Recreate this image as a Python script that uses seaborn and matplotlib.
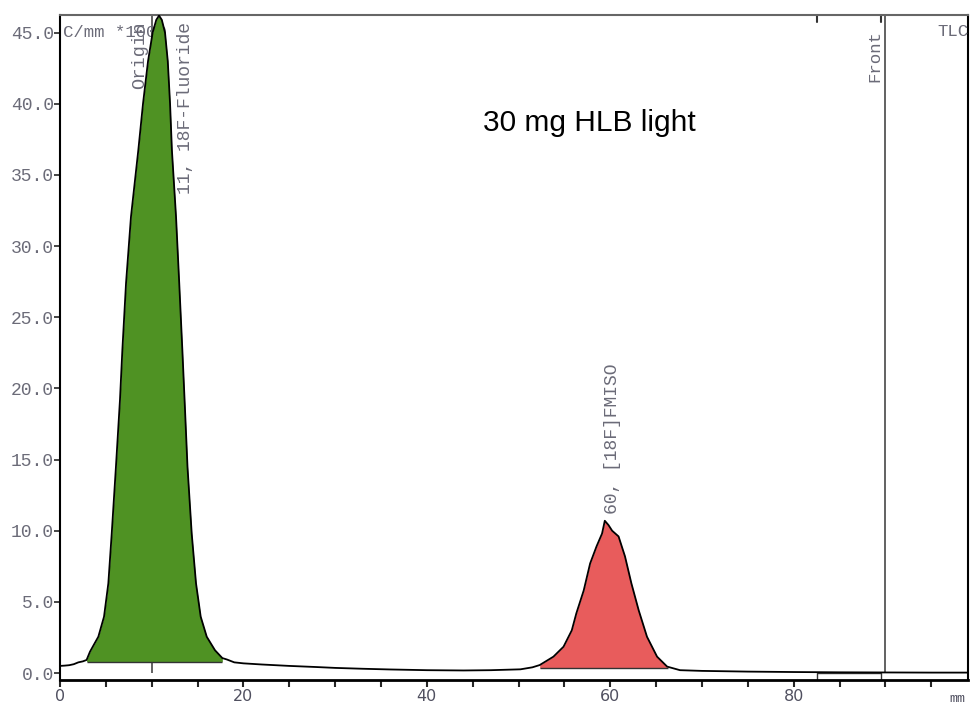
import pandas as pd
import matplotlib
matplotlib.use('Agg')
import matplotlib.pyplot as plt
import seaborn as sns

# Radio-TLC scan (mm vs counts/mm *1000)
dist_mm = [0, 0.5, 1, 1.5, 2, 2.5, 2.9, 3.27, 3.7, 4.18, 4.8, 5.27, 5.64, 6.1, 6.54, 6.8,
           7.2, 7.74, 8.54, 9.05, 9.6, 10.1, 10.5, 10.8, 11.1, 11.45, 11.75, 12.0, 12.2,
           12.65, 13.0, 13.34, 13.63, 13.9, 14.36, 14.83, 15.34, 16.0, 16.9, 17.7, 18.2,
           19, 20, 22, 25, 28, 30, 33, 36, 40, 44, 47, 50.2, 51.5, 52.3, 53.8, 54.9, 55.8,
           56.3, 57.1, 57.8, 58.5, 59.1, 59.4, 59.8, 60.2, 60.9, 61.6, 62.3, 63.1, 64.0,
           65.1, 66.2, 67.6, 70, 75, 80, 85, 90, 95, 99]
counts = [0.5, 0.52, 0.55, 0.62, 0.75, 0.82, 0.92, 1.5, 2.0, 2.55, 3.96, 6.3, 9.8, 14.5,
          19.2, 22.7, 27.4, 32.07, 36.75, 40.0, 43.0, 45.0, 45.9, 46.2, 45.9, 45.0, 43.0,
          40.0, 36.75, 32.07, 27.4, 22.7, 18.5, 14.5, 9.8, 6.3, 3.96, 2.55, 1.6, 1.05,
          0.95, 0.75, 0.68, 0.6, 0.5, 0.42, 0.36, 0.3, 0.25, 0.2, 0.18, 0.2, 0.26, 0.4,
          0.56, 1.15, 1.85, 3.0, 4.2, 5.8, 7.7, 8.9, 9.8, 10.7, 10.4, 10.0, 9.6, 8.2, 6.3,
          4.4, 2.55, 1.15, 0.45, 0.2, 0.15, 0.1, 0.07, 0.05, 0.04, 0.03, 0.03]

# peak regions: (start, end, flat base, colour)
peak_names = ['11, 18F-Fluoride', '60, [18F]FMISO']
peak_start = [2.9, 52.3]
peak_end = [17.7, 66.3]
peak_base = [0.8, 0.35]
peak_colors = ['#4f9223', '#e85c5c']

origin_mm = 10
front_mm = 90

df = pd.DataFrame({'mm': dist_mm, 'counts': counts})

sns.set_theme(style='white')
plt.rcParams['font.family'] = ['DejaVu Sans']
mono = 'Liberation Mono'
grey = '#6b6b78'

fig = plt.figure(figsize=(9.71, 7.05), dpi=100)
ax = fig.add_axes([60 / 971, 25 / 705, 908 / 971, 665 / 705])

ymax = 46.24
# origin and front markers (origin sits behind the green fill)
ax.vlines(origin_mm, 0, ymax, color='#555555', lw=1.3, zorder=1)
ax.vlines(front_mm, 0, ymax, color='#555555', lw=1.3, zorder=1)
ax.text(0.3, 45.0, 'C/mm *1000', family=mono, fontsize=12.5, color=grey,
        va='center', ha='left', zorder=1)

for i in range(len(peak_names)):
    sub = df[(df.mm >= peak_start[i]) & (df.mm <= peak_end[i])]
    ax.fill_between(sub.mm, sub.counts, peak_base[i], color=peak_colors[i], zorder=2, lw=0)
    ax.hlines(peak_base[i], peak_start[i], peak_end[i], color='#333333', lw=1, zorder=3)

sns.lineplot(data=df, x='mm', y='counts', sort=False, color='black', lw=1.3, ax=ax, zorder=4)

# region bracket near the front
for xb in [82.5, 89.5]:
    ax.plot([xb, xb], [ymax, 45.75], color='#333333', lw=1.5, clip_on=False)
ax.plot([82.5, 82.5, 89.5, 89.5], [-0.49, 0.02, 0.02, -0.49], color='#333333', lw=1.0, clip_on=False)

# labels
ax.text(8.7, 45.75, 'Origin', rotation=90, family=mono, fontsize=13.5, color=grey,
        ha='center', va='top', zorder=1)
ax.text(13.7, 45.75, peak_names[0], rotation=90, family=mono, fontsize=13, color=grey,
        ha='center', va='top', zorder=5)
ax.text(60.2, 11.2, peak_names[1], rotation=90, family=mono, fontsize=13, color=grey,
        ha='center', va='bottom', zorder=5)
ax.text(88.8, 45.2, 'Front', rotation=90, family=mono, fontsize=12.5, color=grey,
        ha='center', va='top')
ax.text(99.0, 45.1, 'TLC', family=mono, fontsize=12.5, color=grey, ha='right', va='center')
ax.text(46.1, 38.65, '30 mg HLB light', fontsize=21.5, color='black', ha='left', va='center',
        family='Liberation Sans')
ax.text(97.8, -1.4, 'mm', family=mono, fontsize=9.5, color='#505060', ha='center', va='top',
        clip_on=False)

ax.set_xlim(0, 99)
ax.set_ylim(-0.49, ymax)
ax.set_xticks([0, 20, 40, 60, 80])
ax.set_xticks(range(0, 100, 5), minor=True)
ax.set_yticks([0, 5, 10, 15, 20, 25, 30, 35, 40, 45])
ax.set_yticklabels(['%.1f' % v for v in ax.get_yticks()], family=mono, fontsize=13, color=grey)
ax.tick_params(axis='x', which='both', direction='out', length=5, width=1.5, bottom=True,
               labelsize=11.5, labelcolor='#505060', pad=1.5)
ax.tick_params(axis='y', direction='out', length=4.5, width=1.2, left=True, pad=0)
ax.set_xlabel('')
ax.set_ylabel('')

for side, col, w in [('left', 'black', 1.5), ('right', 'black', 1.5),
                     ('top', '#666666', 1.5), ('bottom', 'black', 2)]:
    ax.spines[side].set_color(col)
    ax.spines[side].set_linewidth(w)

fig.savefig('out.png', dpi=100)
